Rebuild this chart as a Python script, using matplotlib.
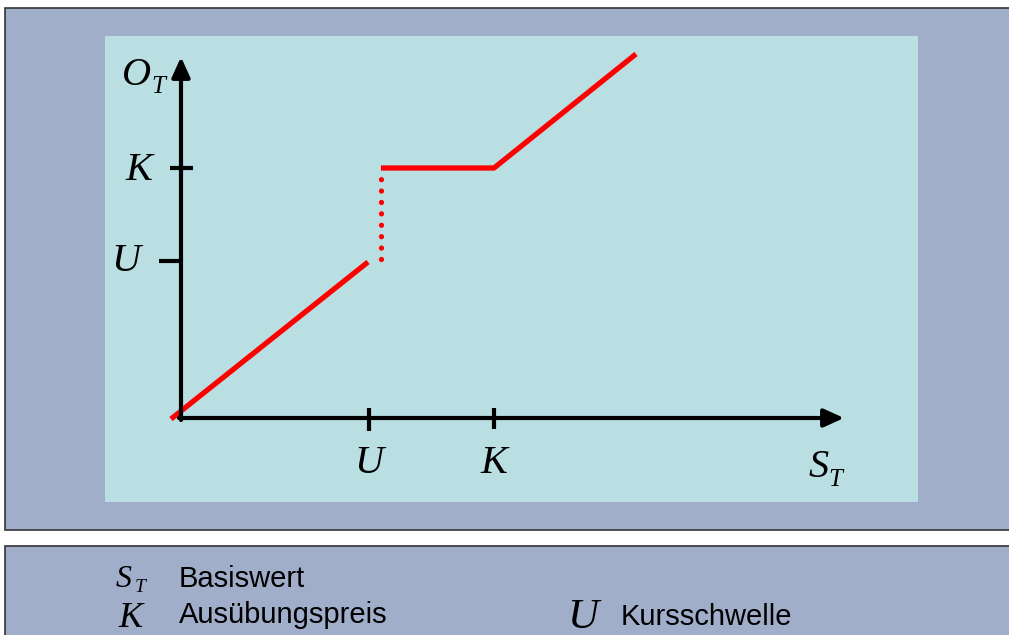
import matplotlib
matplotlib.use("Agg")
import matplotlib.pyplot as plt
from matplotlib.patches import Rectangle

# payoff pieces (units: origin at 0, arbitrary price scale)
low_x = [-0.10, 1.87]
low_y = [-0.01, 1.56]
jump_x = [2.00, 2.00]
jump_y = [1.59, 2.47]
top_x = [2.00, 3.13, 4.55]
top_y = [2.50, 2.50, 3.64]

# axis marks
x_ticks = {"U": 1.88, "K": 3.13}
y_ticks = {"K": 2.50, "U": 1.57}
x_end = 6.63
y_end = 3.61

legend_rows = [("S", "T", "Basiswert"), ("K", "", "Ausübungspreis"), ("U", "", "Kursschwelle")]

W, H = 1009, 635
SERIF = "Liberation Serif"
SANS = "Liberation Sans"
panel = "#A1AECA"
inner = "#B9DFE3"

fig = plt.figure(figsize=(W / 100, H / 100), dpi=100)
fig.patch.set_facecolor("white")

def px(x, y):
    return x / W, 1 - y / H

def box(x0, y0, x1, y1, fc, ec="none"):
    fig.add_artist(Rectangle(px(x0, y1), (x1 - x0) / W, (y1 - y0) / H,
                             transform=fig.transFigure, fc=fc, ec=ec, lw=1.2, zorder=-10))

box(5, 8, 1012, 530, panel, "#333333")
box(5, 546, 1012, 640, panel, "#333333")

ax = fig.add_axes([105 / W, (H - 502) / H, 813 / W, 466 / H])
ax.set_zorder(1)
ax.set_facecolor(inner)
ax.set_xlim(-0.76, 7.37)
ax.set_ylim(-0.84, 3.82)
for s in ax.spines.values():
    s.set_visible(False)
ax.set_xticks([])
ax.set_yticks([])

# axes with arrows
arrow = dict(arrowstyle="-|>,head_length=0.55,head_width=0.25", lw=3, color="black",
             mutation_scale=22, shrinkA=0, shrinkB=0)
ax.annotate("", xy=(0, y_end), xytext=(0, -0.02), arrowprops=arrow)
ax.annotate("", xy=(x_end, 0), xytext=(-0.02, 0), arrowprops=arrow)

# tick marks
ax.plot([x_ticks["U"]] * 2, [-0.13, 0.10], color="black", lw=3, solid_capstyle="butt")
ax.plot([x_ticks["K"]] * 2, [-0.11, 0.10], color="black", lw=3, solid_capstyle="butt")
ax.plot([-0.11, 0.12], [y_ticks["K"]] * 2, color="black", lw=3, solid_capstyle="butt")
ax.plot([-0.22, 0.0], [y_ticks["U"]] * 2, color="black", lw=3, solid_capstyle="butt")

# payoff line
red = "#FF0000"
ax.plot(low_x, low_y, color=red, lw=3.8, solid_capstyle="butt")
ax.plot(top_x, top_y, color=red, lw=3.8, solid_capstyle="butt")
ax.plot(jump_x, jump_y, color=red, lw=3.8, linestyle=(0, (0.01, 2.15)),
        dash_capstyle="round")

it = dict(family=SERIF, style="italic", color="black")

# tick labels
for lab, xv in x_ticks.items():
    ax.annotate(lab, xy=(xv, 0), xytext=(0, -55), textcoords="offset pixels",
                ha="center", va="baseline", fontsize=29, **it)
ax.annotate("K", xy=(0, y_ticks["K"]), xytext=(-29, -12), textcoords="offset pixels",
            ha="right", va="baseline", fontsize=29, **it)
ax.annotate("U", xy=(0, y_ticks["U"]), xytext=(-41, -10), textcoords="offset pixels",
            ha="right", va="baseline", fontsize=29, **it)

# axis names
fig.text(*px(122, 85), "O", fontsize=29, ha="left", va="baseline", **it)
fig.text(*px(151, 93), "T", fontsize=18, ha="left", va="baseline", **it)
fig.text(*px(809, 477), "S", fontsize=29, ha="left", va="baseline", **it)
fig.text(*px(828, 486), "T", fontsize=18, ha="left", va="baseline", **it)

# legend
fig.text(*px(116, 587), legend_rows[0][0], fontsize=23, ha="left", va="baseline", **it)
fig.text(*px(135, 592), legend_rows[0][1], fontsize=14, ha="left", va="baseline", **it)
fig.text(*px(179, 587), legend_rows[0][2], fontsize=21, family=SANS, ha="left", va="baseline")
fig.text(*px(118, 627), legend_rows[1][0], fontsize=26, ha="left", va="baseline", **it)
fig.text(*px(179, 623), legend_rows[1][2], fontsize=21, family=SANS, ha="left", va="baseline")
fig.text(*px(567, 628), legend_rows[2][0], fontsize=31, ha="left", va="baseline", **it)
fig.text(*px(621, 625), legend_rows[2][2], fontsize=21, family=SANS, ha="left", va="baseline")

fig.savefig("out.png", dpi=100)
